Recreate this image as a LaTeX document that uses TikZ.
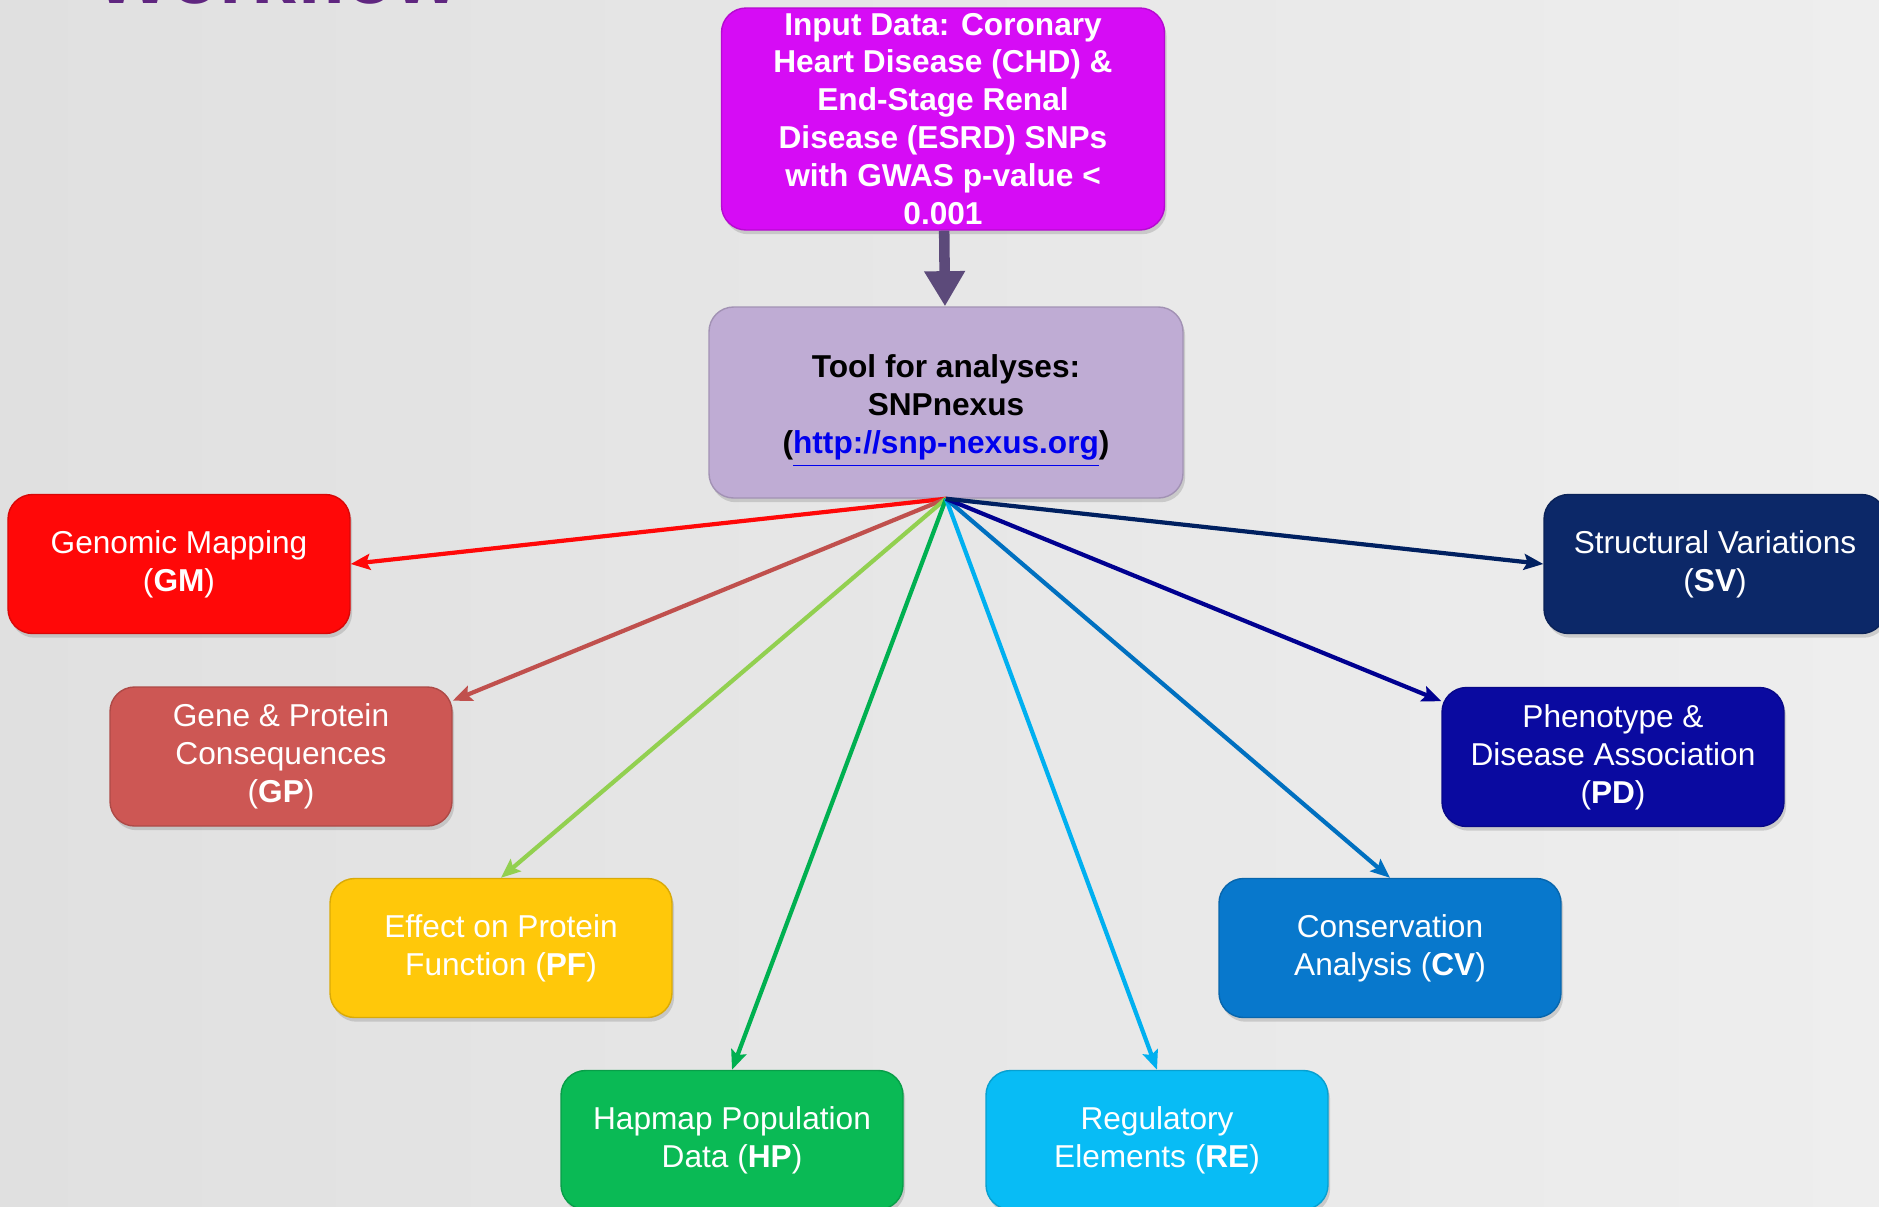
\documentclass[tikz,border=0pt]{standalone}
\usepackage{fontspec}
\setmainfont{Liberation Sans}
\usetikzlibrary{arrows.meta,shadows}

\definecolor{bgleft}{RGB}{224,224,224}
\definecolor{bgright}{RGB}{238,238,238}
\definecolor{titlepurple}{RGB}{96,38,128}
\definecolor{inputmag}{RGB}{214,12,245}
\definecolor{toollav}{RGB}{191,172,212}
\definecolor{feedpurple}{RGB}{92,74,122}
\definecolor{urlblue}{RGB}{0,0,238}
\definecolor{gmred}{RGB}{255,8,8}
\definecolor{gpred}{RGB}{205,87,84}
\definecolor{gpline}{RGB}{192,80,77}
\definecolor{pfgold}{RGB}{255,200,10}
\definecolor{pfline}{RGB}{146,208,80}
\definecolor{hpgreen}{RGB}{10,186,85}
\definecolor{hpline}{RGB}{0,176,80}
\definecolor{reblue}{RGB}{8,188,245}
\definecolor{reline}{RGB}{0,176,240}
\definecolor{cvblue}{RGB}{8,120,204}
\definecolor{cvline}{RGB}{0,112,192}
\definecolor{pdnavy}{RGB}{10,10,160}
\definecolor{pdline}{RGB}{0,0,144}
\definecolor{svnavy}{RGB}{12,40,104}
\definecolor{svline}{RGB}{0,32,96}

\begin{document}
\begin{tikzpicture}
    [font=\fontsize{9}{10.8}\selectfont,
     boxshadow/.style={drop shadow={opacity=0.3,shadow xshift=0.6pt,shadow yshift=-1.2pt}},
     stage/.style={rectangle,rounded corners=7pt,minimum width=3.42cm,minimum height=1.39cm,
                   align=center,text=white,fill=#1,draw=#1!85!black,boxshadow},
     link/.style={line width=1.2pt,-{Stealth[length=5.5pt,width=4.5pt,inset=1pt]}}]

    % background:
    \fill [left color=bgleft, right color=bgright] (0, 0) rectangle (18.79, -12.06);
    \useasboundingbox (0, 0) rectangle (18.79, -12.06);

    % title, cut off at the top:
    \begin{scope}
      \clip (0, 0) rectangle (18.79, -12.06);
      \node (title) at (0.95, -0.03) [anchor=base west,inner sep=0pt,text=titlepurple,
        font=\fontsize{23}{27}\selectfont\bfseries] {Workflow};
    \end{scope}

    % input data:
    \node (input) at (9.43, -1.19) [rectangle,rounded corners=7pt,minimum width=4.43cm,
      minimum height=2.22cm,inner ysep=0pt,align=center,text=white,fill=inputmag,
      draw=inputmag!85!black,boxshadow,font=\fontsize{9}{10.8}\selectfont\bfseries]
      {Input Data: Coronary\\Heart Disease (CHD) \&\\End-Stage Renal\\Disease (ESRD) SNPs\\with GWAS p-value <\\0.001};

    % analysis tool:
    \node (tool) at (9.46, -4.025) [rectangle,rounded corners=7pt,minimum width=4.74cm,
      minimum height=1.91cm,align=center,fill=toollav,draw=toollav!85!black,boxshadow,
      font=\fontsize{9}{10.8}\selectfont\bfseries]
      {\rule{0pt}{9.5pt}Tool for analyses:\\SNPnexus\\(\raisebox{0pt}[\height][0pt]{\textcolor{urlblue}{\underline{http://snp-nexus.org}}})};

    % left annotations:
    \node (GM) at (1.79, -5.64) [stage=gmred] {Genomic Mapping\\(\textbf{GM})};
    \node (GP) at (2.81, -7.565) [stage=gpred] {Gene \& Protein\\Consequences\\(\textbf{GP})};
    \node (PF) at (5.01, -9.48) [stage=pfgold] {Effect on Protein\\Function (\textbf{PF})};
    \node (HP) at (7.32, -11.40) [stage=hpgreen] {Hapmap Population\\Data (\textbf{HP})};

    % right annotations:
    \node (SV) at (17.15, -5.64) [stage=svnavy] {Structural Variations\\(\textbf{SV})};
    \node (PD) at (16.13, -7.57) [stage=pdnavy] {Phenotype \&\\Disease Association\\(\textbf{PD})};
    \node (CV) at (13.90, -9.48) [stage=cvblue] {Conservation\\Analysis (\textbf{CV})};
    \node (RE) at (11.57, -11.40) [stage=reblue] {Regulatory\\Elements (\textbf{RE})};

    % connect nodes:

    \draw [line width=3pt,feedpurple,-{Triangle[length=10pt,width=11pt]}] (input) to (tool);

    \draw [link,gmred] (tool.south) to (GM.east);
    \draw [link,gpline] (tool.south) to (GP.18);
    \draw [link,pfline] (tool.south) to (PF.north);
    \draw [link,hpline] (tool.south) to (HP.north);
    \draw [link,reline] (tool.south) to (RE.north);
    \draw [link,cvline] (tool.south) to (CV.north);
    \draw [link,pdline] (tool.south) to (PD.162);
    \draw [link,svline] (tool.south) to (SV.west);

  \end{tikzpicture}
\end{document}
